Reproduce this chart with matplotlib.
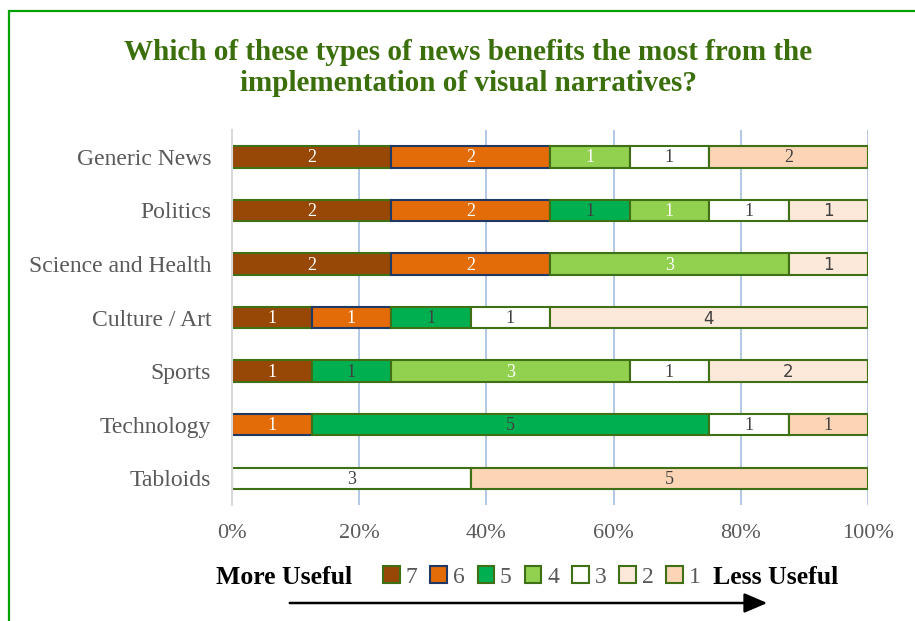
import matplotlib
matplotlib.use("Agg")
import matplotlib.pyplot as plt
from matplotlib.patches import Rectangle, Patch
import numpy as np

# Survey data: number of respondents per usefulness score (7 = most useful)
categories = ["Generic News", "Politics", "Science and Health", "Culture / Art",
              "Sports", "Technology", "Tabloids"]
scores = ["7", "6", "5", "4", "3", "2", "1"]
score_7 = [2, 2, 2, 1, 1, 0, 0]
score_6 = [2, 2, 2, 1, 0, 1, 0]
score_5 = [0, 1, 0, 1, 1, 5, 0]
score_4 = [1, 1, 3, 0, 3, 0, 0]
score_3 = [1, 1, 0, 1, 1, 1, 3]
score_2 = [0, 1, 1, 4, 2, 0, 0]
score_1 = [2, 0, 0, 0, 0, 1, 5]
x_ticks = [0, 20, 40, 60, 80, 100]

series = [score_7, score_6, score_5, score_4, score_3, score_2, score_1]
fills = ["#974806", "#E36C09", "#00B050", "#92D050", "#FFFFFF", "#FDE9D9", "#FBD5B5"]
edges = ["#3F7016", "#1F3864", "#3F7016", "#3F7016", "#3F7016", "#3F7016", "#3F7016"]
label_colors = ["#FFFFFF", "#FFFFFF", "#404040", "#FFFFFF", "#404040", "#404040", "#404040"]
label_fonts = ["Liberation Serif"] * 5 + ["DejaVu Sans", "Liberation Serif"]
label_sizes = [13, 13, 13, 13, 13, 12, 13]

serif = "Liberation Serif"
gray = "#595959"

fig = plt.figure(figsize=(9.15, 6.21), dpi=100)
ax = fig.add_axes([232 / 915, 1 - 505 / 621, 636 / 915, 375 / 621])

totals = np.sum(np.array(series), axis=0)
y = np.arange(len(categories))
left = np.zeros(len(categories))
for vals, fc, ec, lc, lf, ls in zip(series, fills, edges, label_colors, label_fonts, label_sizes):
    vals = np.array(vals, dtype=float)
    widths = vals / totals * 100
    ax.barh(y, widths, left=left, height=0.40, color=fc, edgecolor=ec,
            linewidth=1.5, zorder=3)
    for yi, (v, l, w) in enumerate(zip(vals, left, widths)):
        if v > 0:
            ax.text(l + w / 2, yi + 0.02, f"{int(v)}", ha="center", va="center",
                    color=lc, fontsize=ls, family=lf, zorder=4)
    left = left + widths

ax.set_xlim(0, 100)
ax.set_ylim(len(categories) - 0.5, -0.5)
ax.set_yticks(y)
ax.set_yticklabels(categories, family=serif, fontsize=17, color=gray)
ax.set_xticks(x_ticks)
ax.set_xticklabels([f"{t}%" for t in x_ticks], family=serif, fontsize=16, color=gray)
ax.tick_params(axis="both", length=0)
ax.tick_params(axis="y", pad=15)
ax.tick_params(axis="x", pad=14)
ax.xaxis.grid(True, color="#A6BFE0", linewidth=1.2, zorder=0)
for s in ["top", "right", "bottom"]:
    ax.spines[s].set_visible(False)
ax.spines["left"].set_color("#D9D9D9")
ax.spines["left"].set_linewidth(1.5)
ax.spines["left"].set_zorder(5)

# Title
fig.text(0.512, 1 - 68 / 621,
         "Which of these types of news benefits the most from the\nimplementation of visual narratives?",
         ha="center", va="center", family=serif, fontweight="bold", fontsize=21,
         color="#3A6F0C", linespacing=1.18)

# Legend with end captions
handles = [Patch(facecolor=fc, edgecolor=ec, linewidth=1.5, label=s)
           for fc, ec, s in zip(fills, edges, scores)]
leg = fig.legend(handles=handles, loc="center", bbox_to_anchor=(542 / 915, 1 - 577 / 621),
                 ncol=7, frameon=False, handlelength=0.7, handleheight=0.7,
                 handletextpad=0.25, columnspacing=0.55,
                 prop={"family": serif, "size": 17})
for t in leg.get_texts():
    t.set_color(gray)
fig.text(284 / 915, 1 - 577 / 621, "More Useful", ha="center", va="center",
         family=serif, fontweight="bold", fontsize=18.5, color="black")
fig.text(776 / 915, 1 - 577 / 621, "Less Useful", ha="center", va="center",
         family=serif, fontweight="bold", fontsize=18.5, color="black")
fig.add_artist(matplotlib.patches.FancyArrowPatch(
    (287 / 915, 1 - 603 / 621), (770 / 915, 1 - 603 / 621),
    transform=fig.transFigure, arrowstyle="-|>,head_length=0.7,head_width=0.3",
    color="black", linewidth=1.8, mutation_scale=20))

# Green frame around the chart area
fig.add_artist(Rectangle((8.5 / 915, -0.1), 1.2, 1 - 10.5 / 621 + 0.1,
                         transform=fig.transFigure, fill=False,
                         edgecolor="#00A000", linewidth=1.6))

fig.savefig("out.png", dpi=100, facecolor="white")
